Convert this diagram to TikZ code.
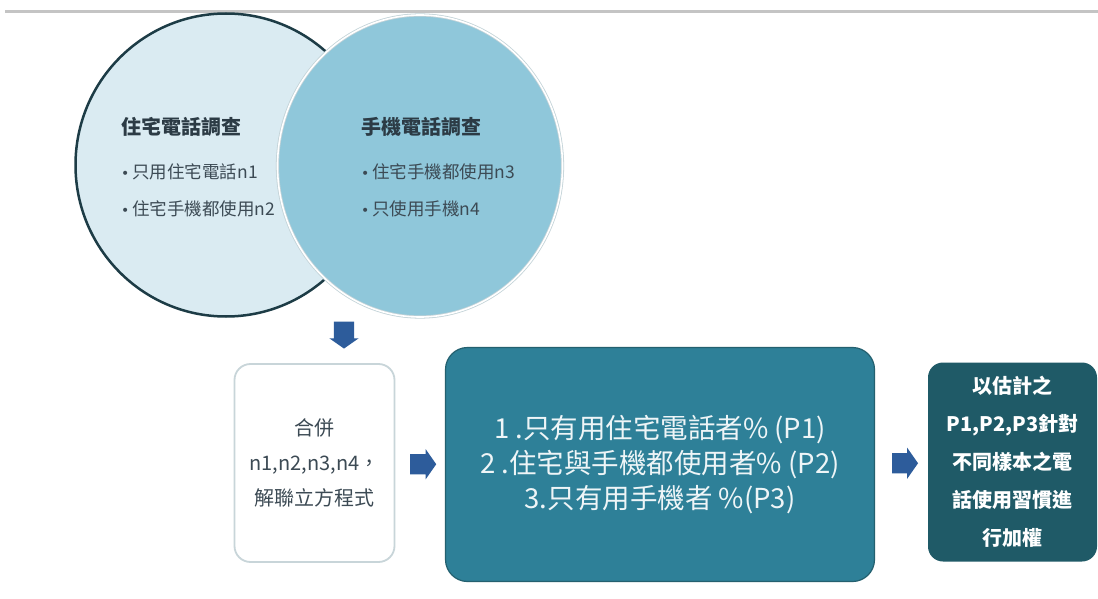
\documentclass[tikz,border=0pt]{standalone}
\usepackage{fontspec}
\setmainfont{Noto Sans CJK TC}
\newfontfamily\bulletfont{DejaVu Sans}
\newcommand{\bul}{{\bulletfont\fontsize{14}{14}\selectfont •}\hspace{3pt}}
\usetikzlibrary{shapes.geometric,shapes.arrows,calc}
\definecolor{lcfill}{HTML}{DAEBF2}
\definecolor{lcdraw}{HTML}{1D3C46}
\definecolor{rcfill}{HTML}{8FC7DA}
\definecolor{rcdraw}{HTML}{C3D3D8}
\definecolor{arrowblue}{HTML}{2D5C9B}
\definecolor{boxonedraw}{HTML}{C8D5D9}
\definecolor{boxtwofill}{HTML}{2E8098}
\definecolor{boxtwodraw}{HTML}{24606F}
\definecolor{boxthreefill}{HTML}{1F5A67}
\definecolor{darktext}{HTML}{2C3B45}
\definecolor{midtext}{HTML}{3C4A54}
\definecolor{topline}{HTML}{C4C4C4}
\begin{document}
\begin{tikzpicture}[x=1pt,y=-1pt,
  blockarrow/.style={single arrow, fill=arrowblue, draw=none, inner xsep=0pt,
    inner ysep=10pt, single arrow tip angle=110},
  titletext/.style={anchor=west, inner sep=0pt, text=darktext,
    font=\fontsize{20}{22}\selectfont\bfseries},
  bullettext/.style={anchor=west, inner sep=0pt, text=midtext, align=left,
    font=\fontsize{17.5}{37}\selectfont},
  flowbox/.style={rounded corners=16pt, align=center, inner sep=0pt}]
\useasboundingbox (0,0) rectangle (1098,599);
\fill[white] (0,0) rectangle (1098,599);
\coordinate (lineL) at (5,12);
\coordinate (lineR) at (1098,12);
\draw[topline, line width=3pt] (lineL) -- (lineR);
% Venn circles
\node[ellipse, minimum width=301pt, minimum height=303pt, inner sep=0pt,
  fill=lcfill, draw=lcdraw, line width=2.5pt] (home) at (226,165) {};
\node[ellipse, minimum width=285pt, minimum height=302pt, inner sep=0pt,
  fill=rcfill, draw=rcdraw, line width=0.8pt, double=white, double distance=1.6pt] (mobile) at (420,166) {};
% circle texts
\node[titletext] (hometitle) at (121,127) {住宅電話調查};
\node[bullettext] (homelist) at (121,190) {\bul 只用住宅電話n1\\\bul 住宅手機都使用n2};
\node[titletext] (mobiletitle) at (361,127) {手機電話調查};
\node[bullettext] (mobilelist) at (361,190) {\bul 住宅手機都使用n3\\\bul 只使用手機n4};
% flow boxes
\node[flowbox, draw=boxonedraw, line width=1.8pt, fill=white,
  minimum width=160pt, minimum height=198pt, text=midtext,
  font=\fontsize{20}{35}\selectfont] (merge) at (314.5,463)
  {合併\\n1,n2,n3,n4，\\解聯立方程式};
\node[flowbox, rounded corners=22pt, draw=boxtwodraw, line width=1.2pt, fill=boxtwofill,
  minimum width=429pt, minimum height=234pt, text=white!92!boxtwofill,
  font=\fontsize{27.5}{35}\selectfont] (result) at (660,464.5)
  {1 .只有用住宅電話者\% (P1)\\2 .住宅與手機都使用者\% (P2)\\3.只有用手機者 \%(P3)};
\node[flowbox, rounded corners=15pt, fill=boxthreefill,
  minimum width=169pt, minimum height=199pt, text=white,
  font=\fontsize{20}{38}\selectfont\bfseries] (weight) at (1012.5,462)
  {以估計之\\P1,P2,P3針對\\不同樣本之電\\話使用習慣進\\行加權};
% block arrows
\node[blockarrow, rotate=-90, minimum height=27pt,
  single arrow head extend=4.5pt] (downarrow) at (344,331.5) {};
\node[blockarrow, minimum height=26pt, single arrow head extend=5pt]
  (arrowone) at ($(merge.east)!0.49!(result.west)+(0,0.5)$) {};
\node[blockarrow, minimum height=26pt, single arrow head extend=5.5pt]
  (arrowtwo) at ($(result.east)!0.5!(weight.west)$) {};
\end{tikzpicture}
\end{document}
